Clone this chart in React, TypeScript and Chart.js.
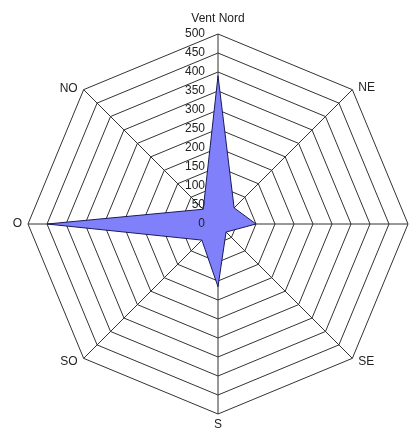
import React, { useEffect, useRef } from 'react';
import { Chart, registerables } from 'chart.js';

Chart.register(...registerables);

const directions = ['Vent Nord', 'NE', '', 'SE', 'S', 'SO', 'O', 'NO'];
const windValues = [390, 60, 100, 30, 165, 60, 450, 55];
const tickValues = [0, 50, 100, 150, 200, 250, 300, 350, 400, 450, 500];

const FONT = '12px "Liberation Sans", Arial, sans-serif';
const TEXT = '#222';

const labelPlugin = {
  id: 'customLabels',
  afterDatasetsDraw(chart: any) {
    const s = chart.scales.r;
    const ctx = chart.ctx;
    ctx.save();
    ctx.font = FONT;
    ctx.fillStyle = TEXT;
    // tick labels to the left of the vertical axis
    ctx.textAlign = 'right';
    ctx.textBaseline = 'middle';
    tickValues.forEach((v) => {
      const p = s.getPointPositionForValue(0, v);
      ctx.fillText(String(v), s.xCenter - 13, p.y);
    });
    // direction labels
    const offs: [number, number, CanvasTextAlign][] = [
      [0, -15, 'center'],
      [6, -2, 'left'],
      [6, 0, 'left'],
      [6, 3, 'left'],
      [0, 11, 'center'],
      [-6, 3, 'right'],
      [-6, 0, 'right'],
      [-6, -1, 'right'],
    ];
    directions.forEach((lab, i) => {
      const p = s.getPointPosition(i, s.drawingArea);
      const [dx, dy, align] = offs[i];
      ctx.textAlign = align;
      ctx.textBaseline = 'middle';
      ctx.fillText(lab, p.x + dx, p.y + dy);
    });
    ctx.restore();
  },
};

export default function App() {
  const ref = useRef<HTMLCanvasElement | null>(null);
  useEffect(() => {
    document.body.style.margin = '0';
    const chart = new Chart(ref.current as HTMLCanvasElement, {
      type: 'radar',
      data: {
        labels: directions,
        datasets: [
          {
            data: windValues,
            backgroundColor: 'rgb(128,128,250)',
            borderColor: '#1a1a5a',
            borderWidth: 1,
            pointRadius: 0,
            fill: true,
            tension: 0,
          },
        ],
      },
      options: {
        animation: false,
        responsive: false,
        devicePixelRatio: 1,
        layout: { padding: { left: 28, right: 6, top: 34, bottom: 18 } },
        plugins: { legend: { display: false }, tooltip: { enabled: false } },
        scales: {
          r: {
            min: 0,
            max: 500,
            ticks: { display: false, stepSize: 50 },
            grid: { color: '#333', lineWidth: 1 },
            angleLines: { color: '#333', lineWidth: 1 },
            pointLabels: { display: false },
          },
        },
      },
      plugins: [labelPlugin],
    });
    return () => chart.destroy();
  }, []);
  return (
    <div style={{ width: 414, height: 432, background: '#fff' }}>
      <canvas ref={ref} width={414} height={432} />
    </div>
  );
}
